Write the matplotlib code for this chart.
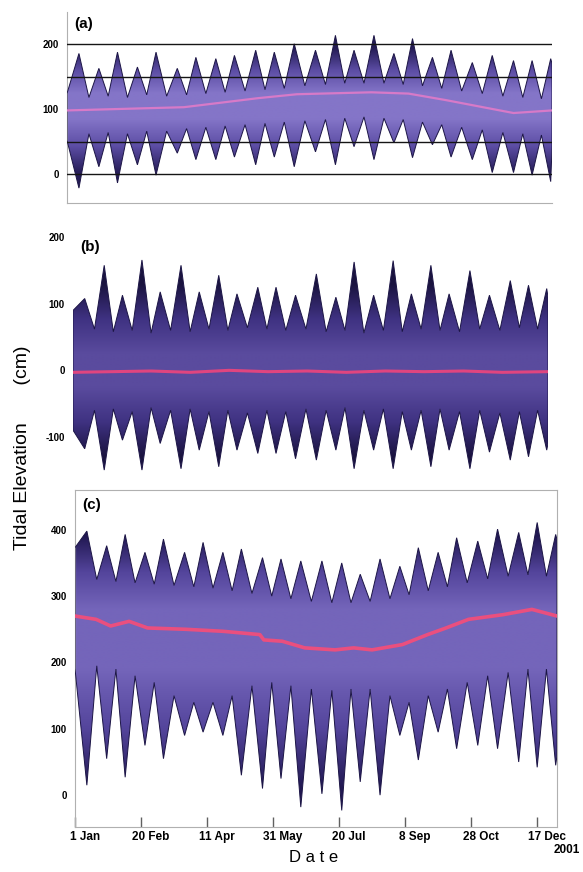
import numpy as np
import matplotlib.pyplot as plt
from matplotlib.patches import Polygon
from matplotlib.colors import LinearSegmentedColormap
from matplotlib.transforms import ScaledTranslation

plt.rcParams['font.family'] = ['Liberation Sans', 'DejaVu Sans']
plt.rcParams['axes.unicode_minus'] = False

# day-of-year of the spring-tide spikes (shared by all three panels)
peak_days = [9, 24, 38, 53, 67, 83, 97, 112, 126, 142, 156, 171, 187, 202,
             216, 231, 246, 260, 275, 289, 305, 320, 336, 350, 364]

# panel (a)
a_hi = [186, 163, 188, 165, 188, 163, 180, 178, 183, 191, 188, 201, 191, 214,
        191, 214, 186, 209, 180, 191, 172, 183, 175, 175, 178]
a_hi_gap = [118, 120, 118, 122, 120, 122, 124, 126, 128, 130, 132, 136, 138,
            140, 140, 140, 138, 136, 132, 128, 124, 120, 118, 116]
a_lo = [-22, 11, -14, 14, -2, 32, 22, 22, 26, 14, 26, 11, 34, 14, 42, 22, 48,
        25, 45, 26, 22, 2, 2, -2, -12]
a_lo_gap = [62, 64, 62, 66, 66, 70, 72, 74, 76, 78, 80, 82, 84, 86, 88, 86, 84,
            80, 76, 72, 68, 64, 62, 60]
a_edge = [124, 52, 170, 40]
a_mean_days = [0, 88, 144, 173, 229, 257, 285, 313, 336, 365]
a_mean = [98, 103, 117, 123, 126, 124, 114, 103, 94, 98]

# panel (b)
b_hi = [108, 158, 113, 166, 118, 158, 118, 143, 115, 125, 125, 113, 145, 110,
        163, 113, 165, 115, 158, 115, 150, 113, 135, 128, 123]
b_hi_gap = [62, 58, 60, 56, 60, 58, 62, 60, 64, 62, 60, 62, 58, 60, 56, 60, 58,
            62, 60, 58, 62, 60, 64, 62]
b_lo = [-118, -150, -105, -150, -110, -148, -120, -145, -120, -125, -125, -133,
        -135, -120, -148, -120, -148, -120, -145, -120, -148, -123, -135, -130,
        -120]
b_lo_gap = [-60, -58, -62, -56, -60, -58, -62, -60, -64, -60, -62, -58, -60,
            -56, -60, -58, -62, -60, -58, -62, -60, -64, -62, -60]
b_edge = [90, -90, 110, -110]
b_mean_days = [0, 30, 60, 90, 120, 150, 180, 210, 240, 270, 300, 330, 365]
b_mean = [-3, -2, -1, -3, 0, -2, -1, -3, -1, -2, -1, -3, -2]

# panel (c)
c_hi = [398, 376, 393, 366, 386, 366, 381, 366, 371, 358, 356, 353, 353, 350,
        333, 356, 345, 373, 366, 388, 383, 401, 396, 411, 393]
c_hi_gap = [325, 322, 320, 318, 316, 314, 312, 308, 304, 300, 296, 292, 290,
            290, 292, 296, 302, 308, 314, 320, 326, 330, 332, 330]
c_lo = [15, 55, 27, 75, 55, 90, 95, 90, 30, 10, 25, -18, 2, -23, 20, 0, 90, 53,
        95, 70, 75, 70, 50, 42, 45]
c_lo_gap = [195, 190, 180, 170, 150, 140, 140, 150, 165, 170, 165, 160, 158,
            160, 160, 150, 140, 150, 160, 170, 180, 185, 190, 190]
c_edge = [373, 191, 385, 60]
c_mean_days = [0, 16, 27, 41, 55, 84, 112, 140, 143, 157, 174, 197, 211, 225,
               248, 267, 281, 298, 324, 346, 365]
c_mean = [270, 265, 255, 262, 252, 250, 247, 242, 234, 232, 222, 219, 222,
          219, 227, 242, 252, 265, 272, 280, 270]

date_ticks = [0, 50, 100, 150, 200, 250, 300, 350]
date_labels = ['1 Jan', '20 Feb', '11 Apr', '31 May', '20 Jul', '8 Sep',
               '28 Oct', '17 Dec']


def envelope(hi, hi_gap, lo, lo_gap, edge):
    mids = [(peak_days[i] + peak_days[i + 1]) / 2 for i in range(len(peak_days) - 1)]
    x, up, dn = [0], [edge[0]], [edge[1]]
    for i in range(len(peak_days)):
        x.append(peak_days[i]); up.append(hi[i]); dn.append(lo[i])
        if i < len(mids):
            x.append(mids[i]); up.append(hi_gap[i]); dn.append(lo_gap[i])
    x.append(365); up.append(edge[2]); dn.append(edge[3])
    return x, up, dn


def draw(ax, hi, hi_gap, lo, lo_gap, edge, mdays, mvals, ylim, shade, cols, mcol, mlw):
    x, up, dn = envelope(hi, hi_gap, lo, lo_gap, edge)
    verts = list(zip(x, up)) + list(zip(x[::-1], dn[::-1]))
    poly = Polygon(verts, closed=True, facecolor='none', edgecolor='#1c1546',
                   lw=0.7, zorder=3)
    ax.add_patch(poly)
    # shading: light in the middle of the band, dark toward the spike tips
    c, up_in, up_out, dn_in, dn_out = shade
    yy = np.linspace(ylim[0], ylim[1], 500)
    d = yy - c
    t = np.where(d >= 0, (d - up_in) / (up_out - up_in),
                 (-d - dn_in) / (dn_out - dn_in))
    t = np.clip(t, 0, 1)
    cmap = LinearSegmentedColormap.from_list('tide', cols)
    im = ax.imshow(t[:, None], extent=[0, 365, ylim[0], ylim[1]], origin='lower',
                   aspect='auto', cmap=cmap, vmin=0, vmax=1, zorder=2,
                   interpolation='bilinear')
    im.set_clip_path(poly)
    ax.plot(mdays, mvals, color=mcol, lw=mlw, zorder=4)
    ax.set_xlim(0, 365)
    ax.set_ylim(*ylim)


fig = plt.figure(figsize=(5.83, 8.72), dpi=100)
ax_a = fig.add_axes([0.1149, 0.7672, 0.832, 0.219])
ax_b = fig.add_axes([0.1252, 0.4495, 0.8148, 0.2821])
ax_c = fig.add_axes([0.1286, 0.0516, 0.8268, 0.3865])

draw(ax_a, a_hi, a_hi_gap, a_lo, a_lo_gap, a_edge, a_mean_days, a_mean,
     (-45, 250), (110, 15, 85, 25, 110),
     ['#8475c8', '#5c4da4', '#241b55'], '#d77ac8', 1.6)
for lev in [0, 50, 150, 200]:
    ax_a.axhline(lev, color='#151515', lw=1.0, zorder=5)
ax_a.set_yticks([0, 100, 200])

draw(ax_b, b_hi, b_hi_gap, b_lo, b_lo_gap, b_edge, b_mean_days, b_mean,
     (-165, 205), (0, 25, 130, 25, 130),
     ['#5a4b9e', '#3f3282', '#1a133f'], '#e0457f', 2.2)
ax_b.set_yticks([-100, 0, 100, 200])

draw(ax_c, c_hi, c_hi_gap, c_lo, c_lo_gap, c_edge, c_mean_days, c_mean,
     (-48, 460), (250, 30, 140, 60, 240),
     ['#7465ba', '#54459c', '#211852'], '#ea4f7e', 2.6)
ax_c.set_yticks([0, 100, 200, 300, 400])
ax_c.set_xticks(date_ticks)
ax_c.set_xticklabels(date_labels, fontsize=8.5, fontweight='bold')
ax_c.tick_params(axis='x', direction='in', length=7, pad=3, width=1.0,
                 color='#606060')
shift = ScaledTranslation(10 / 100, 0, fig.dpi_scale_trans)
for t in ax_c.get_xticklabels():
    t.set_transform(t.get_transform() + shift)

for ax, lab in [(ax_a, '(a)'), (ax_b, '(b)'), (ax_c, '(c)')]:
    ax.tick_params(axis='y', labelsize=7, length=0, pad=6)
    for t in ax.get_yticklabels():
        t.set_fontweight('bold')
    ax.text(0.015, 0.975, lab, transform=ax.transAxes, ha='left', va='top',
            fontsize=11, fontweight='bold', zorder=6)
    for s in ax.spines.values():
        s.set_color('#b0b0b0')
        s.set_linewidth(0.8)

ax_a.set_xticks([])
ax_b.set_xticks([])
ax_a.spines['top'].set_visible(False)
ax_a.spines['right'].set_visible(False)
for s in ax_b.spines.values():
    s.set_visible(False)

fig.text(0.995, 0.025, '2001', ha='right', va='center', fontsize=8.5,
         fontweight='bold')
fig.text(0.537, 0.008, 'D a t e', ha='center', va='bottom', fontsize=12)
fig.text(0.039, 0.487, 'Tidal Elevation       (cm)', rotation=90, ha='center',
         va='center', fontsize=14)

fig.savefig('out.png', dpi=100)
